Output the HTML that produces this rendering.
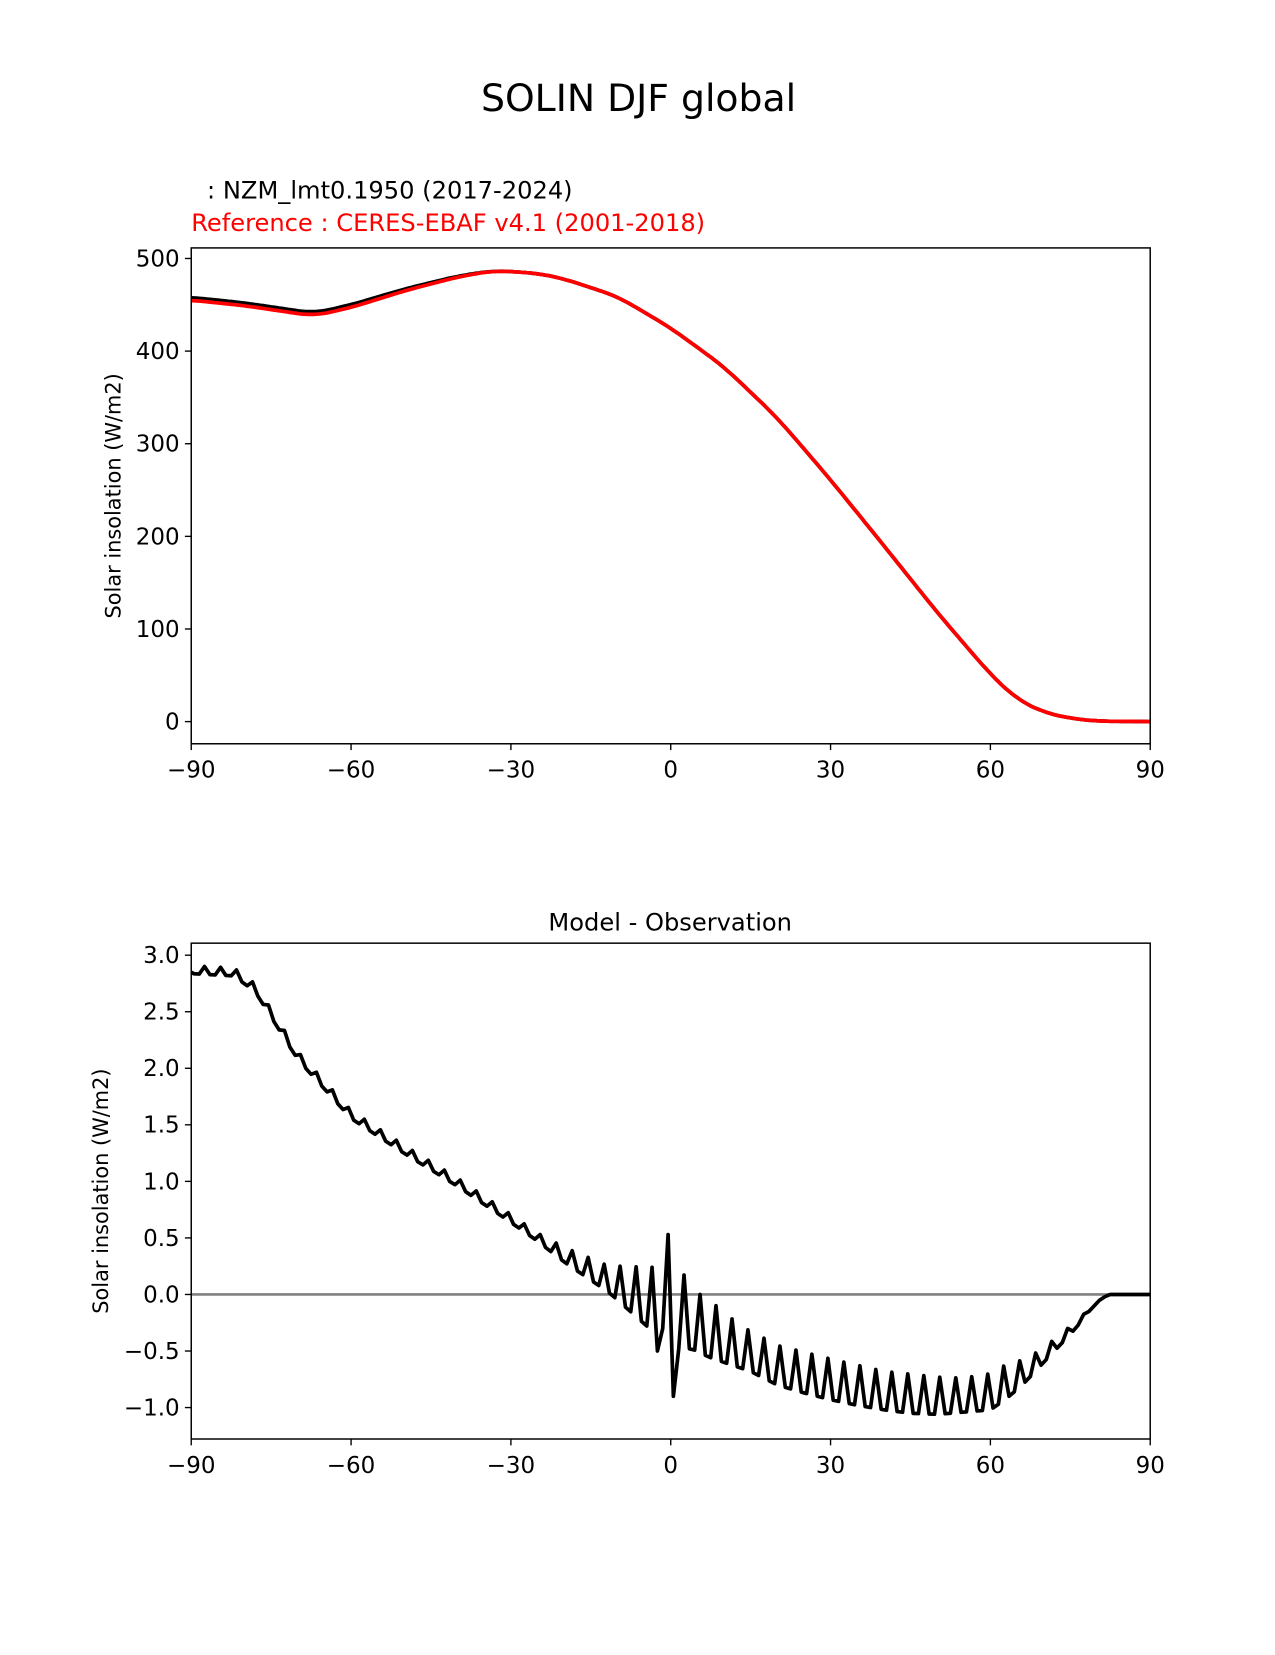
<!DOCTYPE html>
<html><head><meta charset="utf-8"><style>
html,body{margin:0;padding:0;background:#fff}
svg text{font-family:"DejaVu Sans","Liberation Sans",sans-serif}
</style></head><body>
<svg id="s" width="1275" height="1650" viewBox="0 0 1208 1564" xmlns="http://www.w3.org/2000/svg">
<rect width="1208" height="1564" fill="#fff"/>
<text x="605" y="105" font-size="35.8" text-anchor="middle">SOLIN DJF global</text>
<text x="196" y="188" font-size="22.9">: NZM_lmt0.1950 (2017-2024)</text>
<text x="181" y="219" font-size="22.9" fill="red">Reference : CERES-EBAF v4.1 (2001-2018)</text>
<text x="635" y="882" font-size="22.9" text-anchor="middle">Model - Observation</text>
<text transform="translate(114,470) rotate(-90)" font-size="19.8" text-anchor="middle">Solar insolation (W/m2)</text>
<text transform="translate(102,1129) rotate(-90)" font-size="19.8" text-anchor="middle">Solar insolation (W/m2)</text>
<g id="g1"></g>
<line x1="181" y1="1227" x2="1090" y2="1227" stroke="#808080" stroke-width="2.5"/>
<path id="p1" fill="none" stroke="#000" stroke-width="3.5" stroke-linejoin="round"/>
<path id="p2" fill="none" stroke="red" stroke-width="3.5" stroke-linejoin="round"/>
<path id="p3" fill="none" stroke="#000" stroke-width="3.5" stroke-linejoin="round"/>
<rect x="181" y="235" width="909" height="470" fill="none" stroke="#000" stroke-width="1.4"/>
<rect x="181" y="894" width="909" height="470" fill="none" stroke="#000" stroke-width="1.4"/>
</svg>
<script>
var s=document.getElementById('g1'),h='';
var FS=21.8;
function X(l){return 181+(l+90)*909/180;}
[-90,-60,-30,0,30,60,90].forEach(function(v){var x=X(v),t=(v<0?'\u2212':'')+Math.abs(v);
 h+='<line x1="'+x+'" y1="705" x2="'+x+'" y2="711" stroke="#000" stroke-width="1.3"/><text x="'+x+'" y="737" font-size="'+FS+'" text-anchor="middle">'+t+'</text>';
 h+='<line x1="'+x+'" y1="1364" x2="'+x+'" y2="1370" stroke="#000" stroke-width="1.3"/><text x="'+x+'" y="1396" font-size="'+FS+'" text-anchor="middle">'+t+'</text>';});
function Y1(v){return 684-v*0.878;}
[0,100,200,300,400,500].forEach(function(v){var y=Y1(v);h+='<line x1="175" y1="'+y+'" x2="181" y2="'+y+'" stroke="#000" stroke-width="1.3"/><text x="170" y="'+(y+7.5)+'" font-size="'+FS+'" text-anchor="end">'+v+'</text>';});
function Y2(v){return 1227-v*107.2;}
[-1,-0.5,0,0.5,1,1.5,2,2.5,3].forEach(function(v){var y=Y2(v),t=(v<0?'\u2212':'')+Math.abs(v).toFixed(1);h+='<line x1="175" y1="'+y+'" x2="181" y2="'+y+'" stroke="#000" stroke-width="1.3"/><text x="170" y="'+(y+7.5)+'" font-size="'+FS+'" text-anchor="end">'+t+'</text>';});
s.innerHTML=h;
function lin(pts,l){if(l<=pts[0][0])return pts[0][1];for(var i=0;i<pts.length-1;i++){if(l<=pts[i+1][0]){var a=pts[i],b=pts[i+1],f=(l-a[0])/(b[0]-a[0]);return a[1]+(b[1]-a[1])*f;}}return pts[pts.length-1][1];}
function smooth(pts,l,w){var sum=0,n=0;for(var k=-w;k<=w;k+=0.25){var ll=Math.max(-90,Math.min(90,l+k));sum+=lin(pts,ll);n++;}return sum/n;}
var topPts=[[-90,458],[-80,452],[-67,441],[-60,450],[-50,467],[-40,481],[-33,487],[-25,484],[-20,478],[-10,459],[0,425],[10,383],[20,328],[30,261],[40,190],[50,118],[60,51],[65,24],[70,10],[75,3.5],[80,0.5],[90,0]];
var redPts=[[-90,455],[-80,449],[-67,438],[-60,447],[-50,465],[-40,480],[-33,487],[-25,484],[-20,478],[-10,459],[0,425],[10,383],[20,328],[30,261],[40,190],[50,118],[60,51],[65,24],[70,10],[75,3.5],[80,0.5],[90,0]];
function path(pts,Y){var d='';for(var l=-90;l<=90.01;l+=0.5){d+=(d?'L':'M')+X(l).toFixed(1)+','+Y(smooth(pts,l,3)).toFixed(1);}return d;}
document.getElementById('p1').setAttribute('d',path(topPts,Y1));
document.getElementById('p2').setAttribute('d',path(redPts,Y1));
var base=[[-90,2.86],[-82,2.84],[-78,2.7],[-70,2.1],[-60,1.58],[-50,1.27],[-40,0.98],[-30,0.66],[-20,0.33],[-10,0.05],[-3,-0.15],[0,-0.35],[10,-0.62]];
var lows=[[2,-0.48],[4,-0.48],[7,-0.55],[10,-0.6],[15,-0.68],[20,-0.8],[25,-0.87],[30,-0.93],[35,-0.98],[40,-1.02],[45,-1.05],[50,-1.06],[55,-1.04],[60,-1.02],[63,-0.92],[66,-0.8],[70,-0.6],[73,-0.45],[76,-0.3],[79,-0.12],[82,0],[90,0]];
var peaks=[[2,0.2],[5.5,0.0],[8.5,-0.1],[11,-0.2],[14,-0.3],[20,-0.45],[30,-0.57],[40,-0.68],[50,-0.73],[55,-0.74],[60,-0.7],[63,-0.62],[66,-0.58],[70,-0.48],[73,-0.35],[76,-0.25],[79,-0.1],[82,0],[90,0]];
function amp(l){if(l<-25)return 0.07;if(l<-12)return 0.07+(l+25)*0.012;if(l<-3)return 0.22+(l+12)*0.04;return 0.6;}
var d='';
for(var i=0;i<=180;i++){var l=-89.5+i;if(l>89.5)l=90;var v,pk=(i%3==2);
 if(l>1){v=pk?lin(peaks,l):lin(lows,l);}
 else{var b=lin(base,l),a=amp(l);v=pk?b+a*0.67:b-a*0.33;}
 if(Math.abs(l+0.5)<0.1)v=0.53;if(Math.abs(l-0.5)<0.1)v=-0.9;if(Math.abs(l+1.5)<0.1)v=-0.3;if(Math.abs(l+2.5)<0.1)v=-0.5;
 d+=(d?'L':'M')+X(l).toFixed(1)+','+Y2(v).toFixed(1);}
d='M'+X(-90)+','+Y2(2.85)+'L'+d.slice(1);
document.getElementById('p3').setAttribute('d',d);
</script>
</body></html>
